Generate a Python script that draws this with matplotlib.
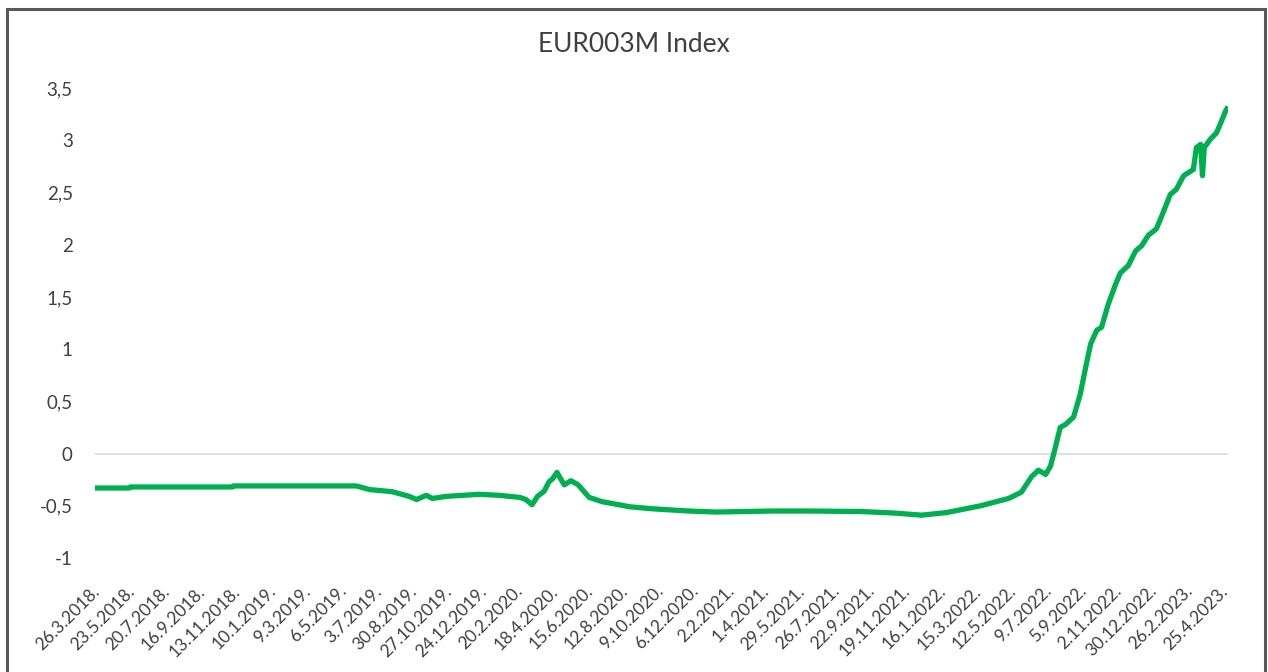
import pandas as pd
import matplotlib.pyplot as plt
import matplotlib.patches as mpatches

# EUR003M values
dates = [
    '2018-03-26', '2018-05-19', '2018-05-20', '2018-11-04', '2018-11-06',
    '2019-05-27', '2019-06-18', '2019-07-25', '2019-08-22', '2019-09-03',
    '2019-09-19', '2019-09-29', '2019-10-22', '2019-12-15', '2020-01-17',
    '2020-02-20', '2020-03-01', '2020-03-11', '2020-03-20', '2020-03-31',
    '2020-04-08', '2020-04-14', '2020-04-21', '2020-05-03', '2020-05-14',
    '2020-05-26', '2020-06-13', '2020-07-04', '2020-08-19', '2020-09-28',
    '2020-11-23', '2021-01-08', '2021-04-13', '2021-06-09', '2021-09-03',
    '2021-10-29', '2021-12-12', '2022-01-22', '2022-03-19', '2022-05-04',
    '2022-05-25', '2022-06-11', '2022-06-22', '2022-07-04', '2022-07-12',
    '2022-07-20', '2022-07-28', '2022-08-06', '2022-08-19', '2022-08-30',
    '2022-09-08', '2022-09-16', '2022-09-26', '2022-10-04', '2022-10-15',
    '2022-10-27', '2022-11-04', '2022-11-17', '2022-11-29', '2022-12-09',
    '2022-12-20', '2023-01-02', '2023-01-10', '2023-01-25', '2023-02-04',
    '2023-02-16', '2023-02-24', '2023-03-04', '2023-03-09', '2023-03-16',
    '2023-03-19', '2023-03-22', '2023-04-01', '2023-04-11', '2023-04-17',
    '2023-04-26', '2023-04-28',
]
rates = [
    -0.33, -0.33, -0.32, -0.32, -0.31,
    -0.31, -0.345, -0.365, -0.41, -0.44,
    -0.40, -0.43, -0.41, -0.39, -0.40,
    -0.42, -0.44, -0.49, -0.41, -0.36,
    -0.27, -0.24, -0.18, -0.30, -0.26,
    -0.30, -0.42, -0.46, -0.51, -0.53,
    -0.55, -0.56, -0.55, -0.55, -0.555,
    -0.57, -0.59, -0.565, -0.50, -0.43,
    -0.37, -0.22, -0.16, -0.20, -0.12,
    0.06, 0.25, 0.28, 0.35, 0.57,
    0.83, 1.05, 1.18, 1.21, 1.43,
    1.62, 1.73, 1.80, 1.94, 1.99,
    2.09, 2.15, 2.26, 2.48, 2.53,
    2.66, 2.69, 2.72, 2.93, 2.96,
    2.66, 2.93, 3.01, 3.07, 3.15,
    3.28, 3.30,
]

tick_labels = [
    '26.3.2018.', '23.5.2018.', '20.7.2018.', '16.9.2018.', '13.11.2018.',
    '10.1.2019.', '9.3.2019.', '6.5.2019.', '3.7.2019.', '30.8.2019.',
    '27.10.2019.', '24.12.2019.', '20.2.2020.', '18.4.2020.', '15.6.2020.',
    '12.8.2020.', '9.10.2020.', '6.12.2020.', '2.2.2021.', '1.4.2021.',
    '29.5.2021.', '26.7.2021.', '22.9.2021.', '19.11.2021.', '16.1.2022.',
    '15.3.2022.', '12.5.2022.', '9.7.2022.', '5.9.2022.', '2.11.2022.',
    '30.12.2022.', '26.2.2023.', '25.4.2023.',
]
y_ticks = [-1, -0.5, 0, 0.5, 1, 1.5, 2, 2.5, 3, 3.5]
y_tick_labels = ['-1', '-0,5', '0', '0,5', '1', '1,5', '2', '2,5', '3', '3,5']

plt.rcParams['font.family'] = ['Lato', 'DejaVu Sans']
text_color = '#404040'

x = pd.to_datetime(dates)
tick_pos = pd.to_datetime(tick_labels, format='%d.%m.%Y.')

fig = plt.figure(figsize=(12.68, 6.72), dpi=100)
ax = fig.add_axes([95 / 1268, 1 - 558 / 672, 1133 / 1268, 470 / 672])

ax.axhline(0, color='#d9d9d9', linewidth=1.2, zorder=1)
ax.plot(x, rates, color='#00B050', linewidth=3.8, solid_joinstyle='round', zorder=2)

ax.set_ylim(-1, 3.5)
ax.set_xlim(pd.Timestamp('2018-03-23'), pd.Timestamp('2023-04-30'))
ax.set_yticks(y_ticks)
ax.set_yticklabels(y_tick_labels)
ax.set_xticks(tick_pos)
ax.set_xticklabels(tick_labels, rotation=45, ha='right', va='center', rotation_mode='anchor')

ax.tick_params(axis='y', length=0, pad=16, labelsize=13.5, labelcolor=text_color)
ax.tick_params(axis='x', length=0, pad=22, labelsize=12.5, labelcolor=text_color)
for s in ax.spines.values():
    s.set_visible(False)

fig.text(0.5, 1 - 45 / 672, 'EUR003M Index', ha='center', va='center',
         fontsize=19, color=text_color)

# chart border
border = mpatches.Rectangle((7 / 1268, -0.05), 1258 / 1268, 1.05 - 9 / 672,
                            transform=fig.transFigure, fill=False,
                            edgecolor='#595959', linewidth=2.2)
fig.patches.append(border)

plt.savefig('out.png', dpi=100)
